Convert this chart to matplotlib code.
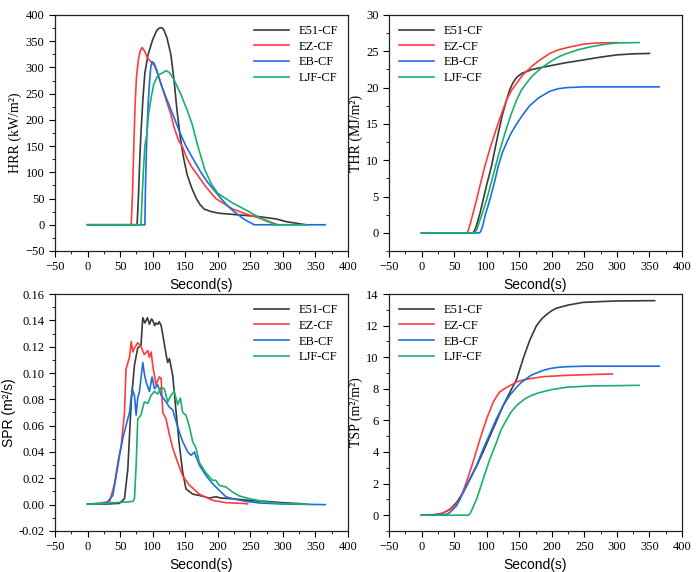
import numpy as np
import matplotlib
matplotlib.use("Agg")
import matplotlib.pyplot as plt
from matplotlib.ticker import MultipleLocator

names = ["E51-CF", "EZ-CF", "EB-CF", "LJF-CF"]
colors = ["#3a3a3a", "#ff3c3c", "#1c6fdf", "#19b06b"]

# HRR (kW/m2)
hrr_e51_t = [0, 76, 78, 80, 82, 85, 88, 93, 100, 106, 109, 112, 115, 117, 122, 128, 133, 137, 142, 147, 153, 160, 167, 173, 179, 190, 202, 230, 260, 290, 305, 320, 335]
hrr_e51_v = [0, 0, 50, 120, 175, 240, 290, 325, 353, 370, 374, 376, 375, 372, 356, 324, 273, 222, 170, 130, 95, 70, 50, 38, 30, 25, 22, 19, 16, 11, 6, 3, 0]
hrr_ez_t = [0, 67, 69, 71, 73, 75, 78, 81, 84, 88, 92, 98, 103, 110, 118, 128, 133, 140, 146, 152, 160, 167, 180, 190, 197, 210, 223, 240, 258, 275, 292]
hrr_ez_v = [0, 0, 60, 150, 230, 280, 315, 332, 338, 330, 318, 310, 303, 280, 248, 210, 185, 160, 148, 128, 110, 98, 75, 60, 50, 40, 30, 22, 15, 8, 0]
hrr_eb_t = [0, 88, 89, 91, 93, 95, 97, 99, 102, 105, 113, 123, 133, 142, 151, 160, 174, 185, 195, 205, 215, 225, 241, 256, 365]
hrr_eb_v = [0, 0, 80, 170, 230, 270, 300, 311, 308, 299, 267, 235, 204, 175, 150, 130, 100, 80, 65, 50, 36, 25, 10, 0, 0]
hrr_ljf_t = [0, 82, 84, 86, 88, 91, 93.5, 97.6, 101.6, 107.7, 112, 116, 120.4, 126, 133, 143.5, 153.7, 161, 168, 180, 190, 200, 222, 248, 269, 289, 335]
hrr_ljf_v = [0, 0, 60, 110, 150, 172, 210, 242, 268, 284, 288, 290, 294, 290, 276, 248, 216, 190, 156, 105, 78, 60, 42, 25, 10, 0, 0]

# THR (MJ/m2)
thr_e51_t = [0, 79, 82, 85, 90, 94.7, 100, 107.5, 112, 117.8, 124, 130.6, 135, 140, 145, 150, 155, 161, 170, 180, 197, 220, 248, 275, 299.5, 325, 350]
thr_e51_v = [0, 0, 0.4, 1.2, 2.8, 4.6, 6.6, 9.2, 11.2, 13.7, 16.2, 18.3, 19.6, 20.6, 21.3, 21.7, 22.0, 22.2, 22.5, 22.7, 23.0, 23.4, 23.8, 24.2, 24.5, 24.65, 24.7]
thr_ez_t = [0, 70, 72, 75, 80, 84.5, 90, 97.3, 105, 112.6, 120, 130.6, 138, 146, 155, 169, 180, 197, 210, 228, 250, 270, 300]
thr_ez_v = [0, 0, 0.4, 1.3, 3.0, 4.6, 6.6, 9.2, 11.6, 13.7, 15.7, 18.3, 19.6, 20.6, 21.7, 22.9, 23.7, 24.7, 25.2, 25.6, 26.0, 26.15, 26.2]
thr_eb_t = [0, 89, 91, 94, 98, 105, 111, 117.8, 124, 131, 138, 146, 155, 166, 180, 197, 210, 223, 250, 365]
thr_eb_v = [0, 0, 0.2, 1.0, 2.5, 4.6, 6.6, 9.2, 11.0, 12.5, 13.8, 15.0, 16.2, 17.5, 18.6, 19.5, 19.85, 20.0, 20.1, 20.1]
thr_ljf_t = [0, 82, 85, 88, 94, 100, 107, 113.7, 120, 128, 137, 146, 153, 161, 170, 180, 187, 200, 212, 223, 240, 258.6, 280, 299.5, 334]
thr_ljf_v = [0, 0, 0.5, 1.3, 2.9, 4.6, 6.9, 9.2, 11.3, 13.7, 16.2, 18.3, 19.6, 20.6, 21.6, 22.4, 22.9, 23.7, 24.3, 24.7, 25.2, 25.6, 25.95, 26.15, 26.2]

# SPR (m2/s)
spr_e51_t = [0, 30, 49, 56.7, 61.8, 67, 72, 77, 82, 84.8, 88, 92, 95, 98, 100, 103, 105, 108, 110, 113, 115.5, 120.6, 123, 125.7, 130.8, 136, 141, 146, 151, 161.4, 171.6, 187, 197, 205, 222.7, 253, 274, 299, 325, 334]
spr_e51_v = [0.0005, 0.0005, 0.001, 0.0046, 0.027, 0.078, 0.106, 0.119, 0.121, 0.142, 0.138, 0.142, 0.137, 0.141, 0.140, 0.136, 0.138, 0.137, 0.139, 0.136, 0.129, 0.114, 0.108, 0.111, 0.098, 0.070, 0.045, 0.025, 0.012, 0.008, 0.007, 0.005, 0.006, 0.005, 0.0045, 0.003, 0.0025, 0.0015, 0.0008, 0.0005]
spr_ez_t = [0, 18, 34, 41, 46.5, 51.6, 56.7, 59, 64.4, 67, 69.5, 72, 74.6, 77, 82, 87, 92.5, 95, 97.6, 100, 105, 110, 113, 115.5, 120.6, 125.7, 130.8, 138.4, 146, 156, 171.6, 192, 212.5, 243, 245.7]
spr_ez_v = [0.0005, 0.001, 0.0025, 0.015, 0.032, 0.045, 0.070, 0.103, 0.112, 0.124, 0.116, 0.119, 0.121, 0.123, 0.120, 0.114, 0.117, 0.112, 0.116, 0.106, 0.091, 0.097, 0.096, 0.070, 0.065, 0.053, 0.043, 0.032, 0.022, 0.015, 0.008, 0.0033, 0.0015, 0.0008, 0.0005]
spr_eb_t = [0, 28.6, 38.8, 44, 49, 54, 59, 64.4, 68.5, 72, 74.6, 77, 79.7, 84.8, 87, 90, 95, 99, 102.7, 107.8, 113, 120.6, 125.7, 130.8, 136, 141, 146, 153.8, 159, 164, 171.6, 182, 192, 202, 212.5, 222.7, 243, 263.6, 299, 365]
spr_eb_v = [0.0005, 0.001, 0.007, 0.022, 0.037, 0.050, 0.060, 0.070, 0.088, 0.083, 0.068, 0.081, 0.086, 0.108, 0.100, 0.093, 0.086, 0.097, 0.088, 0.091, 0.083, 0.078, 0.074, 0.072, 0.063, 0.055, 0.048, 0.040, 0.0375, 0.040, 0.030, 0.022, 0.016, 0.011, 0.006, 0.0045, 0.0025, 0.0013, 0.0005, 0.0]
spr_ljf_t = [0, 59, 69.5, 72, 74.6, 77, 82, 87, 92.5, 97.6, 102.7, 107.8, 113, 118, 123, 128, 133, 138.4, 142.5, 146, 151, 156, 161.4, 166.5, 171.6, 182, 192, 197, 202, 212.5, 222.7, 233, 248, 274, 299, 340]
spr_ljf_v = [0.0003, 0.002, 0.0025, 0.0046, 0.030, 0.065, 0.068, 0.078, 0.077, 0.083, 0.086, 0.084, 0.089, 0.088, 0.078, 0.083, 0.086, 0.076, 0.081, 0.070, 0.068, 0.060, 0.048, 0.043, 0.032, 0.024, 0.0185, 0.0185, 0.0147, 0.0134, 0.0096, 0.0066, 0.0046, 0.002, 0.0008, 0.0003]

# TSP (m2/m2)
tsp_e51_t = [0, 20, 33, 43.5, 53.8, 64, 74, 84.5, 95, 105, 115, 125.5, 136, 146, 156, 166.4, 176.6, 185, 192, 200, 207, 225, 248, 275, 299.5, 358]
tsp_e51_v = [0, 0.02, 0.13, 0.38, 0.8, 1.44, 2.25, 3.1, 4.05, 5.0, 5.95, 6.95, 7.8, 8.6, 9.9, 11.1, 12.0, 12.45, 12.7, 12.95, 13.1, 13.3, 13.47, 13.52, 13.56, 13.58]
tsp_ez_t = [0, 28, 43.5, 52, 59, 69, 79, 89.6, 100, 110, 115, 120, 127, 135.7, 146, 155, 166, 187, 223, 258.6, 292.9]
tsp_ez_v = [0, 0.06, 0.34, 0.65, 1.0, 2.1, 3.35, 4.8, 6.1, 7.15, 7.5, 7.8, 8.0, 8.2, 8.43, 8.55, 8.64, 8.77, 8.85, 8.9, 8.94]
tsp_eb_t = [0, 38, 43.5, 53.8, 64, 74, 84.5, 94.7, 105, 115, 125.5, 135.7, 146, 153, 161, 168, 176.6, 187, 197, 210, 223, 248, 365]
tsp_eb_v = [0, 0.04, 0.17, 0.6, 1.44, 2.29, 3.14, 4.2, 5.15, 6.1, 6.95, 7.6, 8.1, 8.4, 8.64, 8.85, 9.0, 9.17, 9.28, 9.36, 9.4, 9.43, 9.43]
tsp_ljf_t = [0, 71.7, 73.5, 75, 79, 84.5, 94.7, 105, 115, 122, 130, 137, 145, 152, 160, 170, 180, 200, 223, 260, 300, 334]
tsp_ljf_v = [0, 0, 0.05, 0.13, 0.5, 1.0, 2.3, 3.56, 4.6, 5.4, 6.0, 6.5, 6.9, 7.15, 7.4, 7.6, 7.75, 7.95, 8.1, 8.18, 8.2, 8.22]

serif = "Liberation Serif"
sans = "Liberation Sans"

fig = plt.figure(figsize=(7.0, 5.72), dpi=100)
ax_hrr = fig.add_axes([0.0786, 0.5612, 0.4186, 0.4126])
ax_thr = fig.add_axes([0.5557, 0.5612, 0.4186, 0.4126])
ax_spr = fig.add_axes([0.0786, 0.0717, 0.4186, 0.4143])
ax_tsp = fig.add_axes([0.5557, 0.0717, 0.4186, 0.4143])

panels = [
    (ax_hrr, [(hrr_e51_t, hrr_e51_v), (hrr_ez_t, hrr_ez_v), (hrr_eb_t, hrr_eb_v), (hrr_ljf_t, hrr_ljf_v)],
     "HRR (kW/m\u00b2)", serif, (-50, 400), 50, 25, "upper right", None),
    (ax_thr, [(thr_e51_t, thr_e51_v), (thr_ez_t, thr_ez_v), (thr_eb_t, thr_eb_v), (thr_ljf_t, thr_ljf_v)],
     "THR (MJ/m\u00b2)", serif, (-2.5, 30), 5, 2.5, "upper left", None),
    (ax_spr, [(spr_e51_t, spr_e51_v), (spr_ez_t, spr_ez_v), (spr_eb_t, spr_eb_v), (spr_ljf_t, spr_ljf_v)],
     "SPR (m\u00b2/s)", sans, (-0.02, 0.16), 0.02, 0.01, "upper right", "%.2f"),
    (ax_tsp, [(tsp_e51_t, tsp_e51_v), (tsp_ez_t, tsp_ez_v), (tsp_eb_t, tsp_eb_v), (tsp_ljf_t, tsp_ljf_v)],
     "TSP (m\u00b2/m\u00b2)", serif, (-1, 14), 2, 1, "upper left", None),
]

for ax, series, ylab, yfont, ylim, major, minor, loc, fmt in panels:
    for (t, v), name, c in zip(series, names, colors):
        ax.plot(t, v, color=c, lw=1.2, label=name)
    ax.set_xlim(-50, 400)
    ax.set_ylim(*ylim)
    ax.xaxis.set_major_locator(MultipleLocator(50))
    ax.xaxis.set_minor_locator(MultipleLocator(25))
    ax.yaxis.set_major_locator(MultipleLocator(major))
    ax.yaxis.set_minor_locator(MultipleLocator(minor))
    if fmt:
        ax.yaxis.set_major_formatter(plt.FormatStrFormatter(fmt))
    ax.tick_params(which="major", direction="out", length=4, width=0.8, labelsize=9)
    ax.tick_params(which="minor", direction="out", length=2.5, width=0.6)
    for lab in ax.get_xticklabels() + ax.get_yticklabels():
        lab.set_fontfamily(serif)
    for s in ax.spines.values():
        s.set_linewidth(0.9)
        s.set_color("#222222")
    ax.set_xlabel("Second(s)", fontfamily=sans, fontsize=10, labelpad=3)
    ax.set_ylabel(ylab, fontfamily=yfont, fontsize=10, labelpad=2)
    leg = ax.legend(loc=loc, frameon=False, prop={"family": serif, "size": 9},
                    handlelength=2.8, labelspacing=0.3, borderaxespad=0.4)

fig.savefig("out.png", dpi=100)
